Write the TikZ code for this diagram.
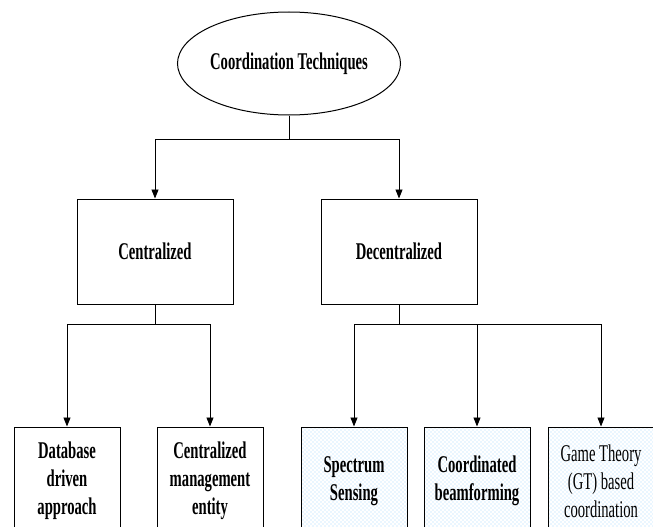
\documentclass[tikz,border=0pt]{standalone}
\usepackage{fontspec}
\setmainfont{Liberation Serif}[FakeStretch=0.61]
\usetikzlibrary{shapes.geometric,arrows.meta,patterns.meta}

\tikzdeclarepattern{
  name=bluedots,
  type=uncolored,
  bottom left={(-.1pt,-.1pt)},
  top right={(4.1pt,4.1pt)},
  tile size={(4pt,4pt)},
  code={
    \fill (1pt,1pt) circle (0.6pt);
    \fill (3pt,3pt) circle (0.6pt);
  }
}

\begin{document}
\begin{tikzpicture}[x=1pt, y=-1pt,
    every node/.style={font=\fontsize{24}{28}\selectfont\bfseries, align=center},
    topnode/.style={draw, ellipse, line width=1pt, minimum width=179pt, minimum height=103pt, inner sep=0pt},
    midbox/.style={draw, rectangle, line width=1pt, minimum width=156pt, minimum height=105pt},
    leafbox/.style={draw, rectangle, line width=1pt, minimum width=106pt, minimum height=108pt, inner sep=0pt},
    dotted leaf/.style={leafbox, pattern=bluedots, pattern color=cyan!55!blue!35},
    arr/.style={-{Triangle[length=9pt, width=7pt]}, line width=0.8pt},
    link/.style={line width=0.8pt}]
\clip (0,0) rectangle (653,527);

% Root
\node[topnode] (root) at (289, 63.5) {Coordination Techniques};

% Second level
\node[midbox] (cen) at (155, 251.5) {Centralized};
\node[midbox] (dec) at (399, 251.5) {Decentralized};

% Leaves
\node[leafbox] (db) at (67, 481) {Database\\driven\\approach};
\node[leafbox] (cme) at (210, 481) {Centralized\\management\\entity};
\node[dotted leaf] (ss) at (354, 481) {Spectrum\\Sensing};
\node[dotted leaf] (cb) at (477, 481) {Coordinated\\beamforming};
\node[dotted leaf, font=\fontsize{24}{28}\selectfont\mdseries] (gt) at (601, 481) {Game Theory\\(GT) based\\coordination};

% Junctions
\coordinate (j1) at (289, 139);
\coordinate (j2) at (155, 324);
\coordinate (j3) at (399, 324);

% Root to second level
\draw[link] (root) -- (j1);
\draw[arr] (j1) -| (cen);
\draw[arr] (j1) -| (dec);

% Centralized branch
\draw[link] (cen) -- (j2);
\draw[arr] (j2) -| (db);
\draw[arr] (j2) -| (cme);

% Decentralized branch
\draw[link] (dec) -- (j3);
\draw[arr] (j3) -| (ss);
\draw[arr] (j3) -| (cb);
\draw[arr] (j3) -| (gt);

\end{tikzpicture}
\end{document}
